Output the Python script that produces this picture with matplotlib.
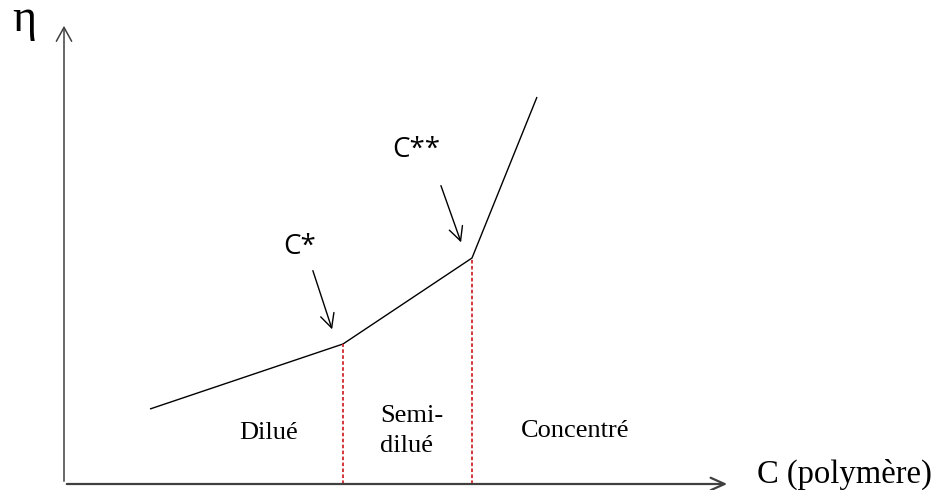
import matplotlib.pyplot as plt

# schematic viscosity curve (arbitrary units)
c_vals = [8.6, 27.9, 40.8, 47.3]
eta_vals = [7.5, 14.0, 22.6, 38.7]
c_star = 27.9
c_star2 = 40.8
regions = ['Dilué', 'Semi-\ndilué', 'Concentré']

fig = plt.figure(figsize=(9.42, 4.9), dpi=100)
ax = fig.add_axes([64 / 942, 6 / 490, 878 / 942, 484 / 490])
ax.set_xlim(0, 87.8)
ax.set_ylim(0, 48.4)
ax.axis('off')

serif = ['Liberation Serif', 'DejaVu Serif']
sans = ['Open Sans', 'DejaVu Sans']

# axes with arrows
axis_col = '#404040'
ax.annotate('', xy=(0, 46.1), xytext=(0, 0),
            arrowprops=dict(arrowstyle='->,head_length=1.0,head_width=0.55', color=axis_col, lw=1.1))
ax.annotate('', xy=(66.6, 0), xytext=(0, 0),
            arrowprops=dict(arrowstyle='->,head_length=1.0,head_width=0.45', color=axis_col, lw=1.6))

# curve
ax.plot(c_vals, eta_vals, color='black', lw=1.0, solid_capstyle='butt')

# region boundaries
red = '#d0282c'
ax.plot([c_star, c_star], [0, eta_vals[1]], color=red, lw=1.3, ls=(0, (2, 1.3)))
ax.plot([c_star2, c_star2], [0, eta_vals[2]], color=red, lw=1.3, ls=(0, (2, 1.3)))

# arrows pointing to the break points
ax.annotate('', xy=(26.9, 15.2), xytext=(24.8, 21.6),
            arrowprops=dict(arrowstyle='->,head_length=1.0,head_width=0.5', color='black', lw=1.0))
ax.annotate('', xy=(39.8, 23.9), xytext=(37.6, 30.1),
            arrowprops=dict(arrowstyle='->,head_length=1.0,head_width=0.5', color='black', lw=1.0))
ax.text(21.9, 23.0, 'C*', family=sans, fontsize=20, ha='left', va='baseline')
ax.text(32.8, 32.7, 'C**', family=sans, fontsize=20, ha='left', va='baseline')

# region labels
ax.text(20.5, 4.5, regions[0], family=serif, fontsize=19, ha='center', va='baseline')
ax.text(31.6, 6.2, 'Semi-', family=serif, fontsize=19, ha='left', va='baseline')
ax.text(31.6, 3.2, 'dilué', family=serif, fontsize=19, ha='left', va='baseline')
ax.text(51.1, 4.7, regions[2], family=serif, fontsize=19, ha='center', va='baseline')

# axis labels
ax.text(69.3, 0.1, 'C (polymère)', family=serif, fontsize=23.5, ha='left', va='baseline')
ax.text(-5.2, 45.3, 'η', family=serif, fontsize=33, ha='left', va='baseline')

fig.savefig('out.png', dpi=100)
